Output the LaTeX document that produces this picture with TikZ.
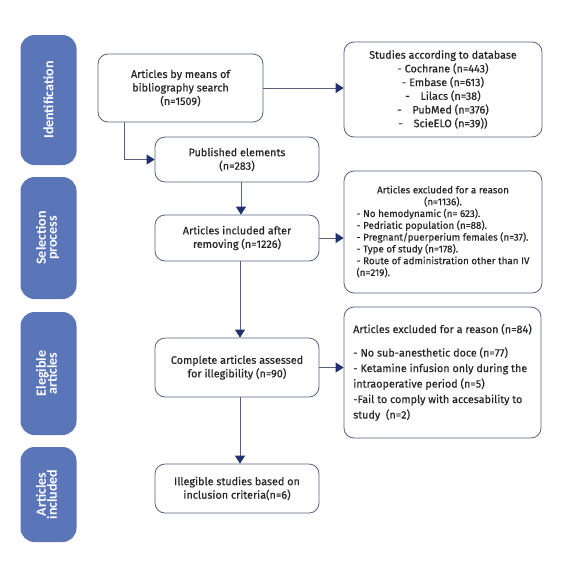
\documentclass[tikz,border=0pt]{standalone}
\usepackage{fontspec}
\setmainfont{Fira Sans}[FakeBold=0.4]
\newfontfamily\sidefont{Carlito}
\usetikzlibrary{arrows.meta}
\definecolor{sideblue}{HTML}{5B76B8}
\definecolor{boxline}{HTML}{5A6080}
\definecolor{arrowblue}{HTML}{1F3170}
\begin{document}
\begin{tikzpicture}[x=1pt,y=-1pt,
  sidebox/.style={draw=none,fill=sideblue,rounded corners=14pt,minimum width=56pt,text=white,font=\sidefont\bfseries\fontsize{14}{14}\selectfont,align=center,inner sep=0pt},
  mainbox/.style={draw=boxline,line width=0.8pt,rounded corners=10pt,fill=white,align=center,inner sep=2pt,text=black!85,font=\fontsize{10.8}{13.5}\selectfont},
  conn/.style={draw=boxline,line width=0.8pt,-{Triangle[length=8pt,width=10pt,color=arrowblue]}}
]
\useasboundingbox (0,0) rectangle (572,560);
\fill[white] (0,0) rectangle (572,560);
% side labels
\node[sidebox,minimum height=130pt] (s1) at (48.5,100) {\rotatebox{90}{Identification}};
\node[sidebox,minimum height=122pt] (s2) at (48.5,238) {\rotatebox{90}{\begin{tabular}{@{}c@{}}Selection\\[-3pt]process\end{tabular}}};
\node[sidebox,minimum height=123pt] (s3) at (48.5,373.5) {\rotatebox{90}{\begin{tabular}{@{}c@{}}Elegible\\[-3pt]articles\end{tabular}}};
\node[sidebox,minimum height=95pt] (s4) at (48.5,494.5) {\rotatebox{90}{\begin{tabular}{@{}c@{}}Articles\\[-3pt]included\end{tabular}}};
% main boxes
\node[mainbox,minimum width=165pt,minimum height=68pt] (a) at (180.5,88) {Articles by means of\\bibliography search\\(n=1509)};
\node[mainbox,minimum width=164pt,minimum height=45pt] (pub) at (237,159.5) {Published elements\\(n=283)};
\node[mainbox,minimum width=164pt,minimum height=46pt] (inc) at (237,238) {Articles included after\\removing (n=1226)};
\node[mainbox,minimum width=164pt,minimum height=59pt] (comp) at (237,367.5) {Complete articles assessed\\for illegibility (n=90)};
\node[mainbox,minimum width=164pt,minimum height=49pt] (ill) at (237,488.5) {Illegible studies based on\\inclusion criteria(n=6)};
\node[mainbox,minimum width=198pt,minimum height=95pt,font=\fontsize{10.8}{13.7}\selectfont] (db) at (443,89.5) {Studies according to database\\- Cochrane (n=443)\\- Embase (n=613)\\-\quad Lilacs (n=38)\\-\quad PubMed (n=376)\\-\quad ScieELO (n=39))};
\node[mainbox,minimum width=198pt,minimum height=122pt,font=\fontsize{9.8}{13.3}\selectfont] (ex1) at (443,232) {\begin{tabular}{@{}l@{}}\multicolumn{1}{@{}c@{}}{Articles excluded for a reason}\\[-1.5pt]\multicolumn{1}{@{}c@{}}{(n=1136).}\\[-1.5pt]- No hemodynamic (n= 623).\\[-1.5pt]- Pedriatic population (n=88).\\[-1.5pt]- Pregnant/puerperium females (n=37).\\[-1.5pt]- Type of study (n=178).\\[-1.5pt]- Route of administration other than IV\\[-1.5pt](n=219).\end{tabular}};
\node[mainbox,minimum width=197pt,minimum height=131pt,font=\fontsize{10.8}{16.5}\selectfont] (ex2) at (442.5,372.5) {\begin{tabular}{@{}l@{}}Articles excluded for a reason (n=84)\\[7pt]- No sub-anesthetic doce (n=77)\\[-1pt]- Ketamine infusion only during the\\[-1pt]intraoperative period (n=5)\\[-1pt]-Fail to comply with accesability to\\[-1pt]study\ \ (n=2)\end{tabular}};
% connectors
\draw[conn] (a.east |- 0,88) -- (db.west |- 0,88);
\draw[conn] (a.south -| 124,0) |- (pub.west);
\draw[conn] (pub.south -| 241,0) -- (inc.north -| 241,0);
\draw[conn] (inc.east) -- (ex1.west |- inc.east);
\draw[conn] (inc.south -| 240,0) -- (comp.north -| 240,0);
\draw[conn] (comp.east) -- (ex2.west |- comp.east);
\draw[conn] (comp.south -| 240,0) -- (ill.north -| 240,0);
\end{tikzpicture}
\end{document}
